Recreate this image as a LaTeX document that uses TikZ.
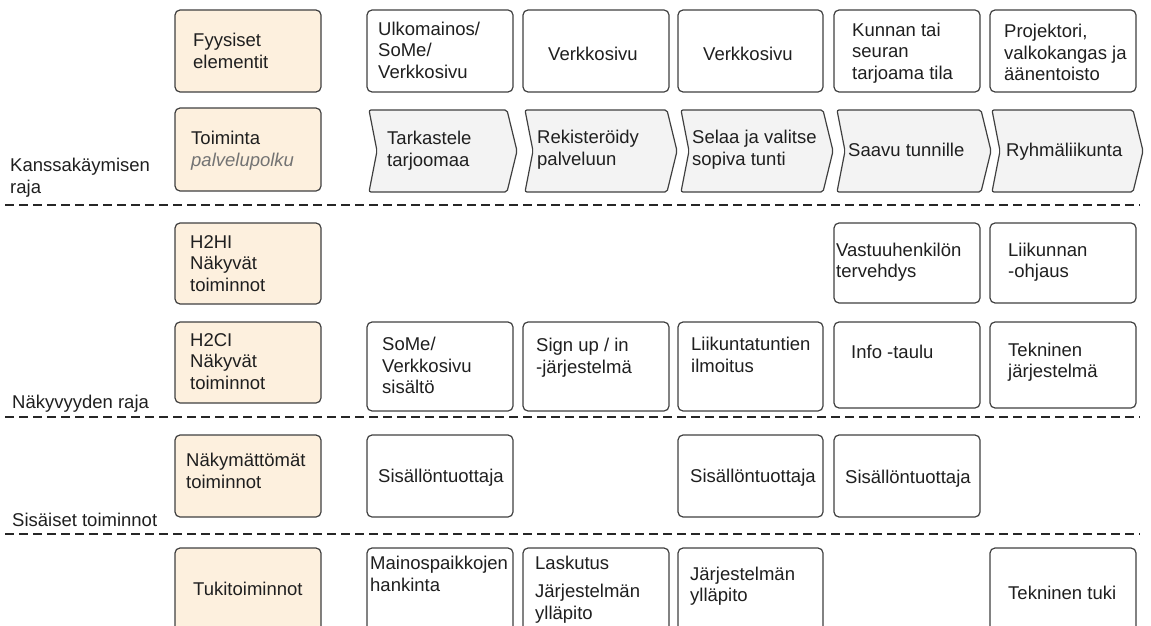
\documentclass[tikz,border=0pt]{standalone}
\usepackage{fontspec}
\setmainfont{Liberation Sans}
\definecolor{peach}{RGB}{253,240,222}
\definecolor{stepgray}{RGB}{243,243,243}
\begin{document}
\begin{tikzpicture}[x=1pt,y=-1pt,
  font=\fontsize{18.5}{21.5}\selectfont,
  every node/.style={text=black!88},
  boxbase/.style={draw=black!75,line width=1.2pt,rounded corners=5pt,inner sep=0pt,outer sep=0pt},
  catbox/.style={boxbase,fill=peach},
  cellbox/.style={boxbase,fill=white},
  chevbox/.style={draw=black!75,line width=1.2pt,rounded corners=2pt,fill=stepgray},
  txt/.style={anchor=north west,inner sep=0pt,align=left,execute at begin node={\rule{0pt}{17pt}}},
  sep/.style={line width=2.1pt,dash pattern=on 8.5pt off 5.5pt,black!85}
]
% page frame
\useasboundingbox (0,0) rectangle (1151,626);
\clip (0,0) rectangle (1151,626);

% box as a named node: style, name, x1, y1, x2, y2
\newcommand\cell[6]{%
  \node[#1,minimum width={(#5-#3)*1pt},minimum height={(#6-#4)*1pt}] (#2) at ({(#3+#5)/2},{(#4+#6)/2}) {};}
% text as a named node: name, left x, first baseline, text
\newcommand\celltext[4]{\node[txt] (#1) at (#2,{#3-17}) {#4};}
% chevron step: left x, right x, top y, bottom y
\newcommand\chev[4]{%
  \draw[chevbox] (#1,#3) -- (#2,#3) -- ({#2+10},{(#3+#4)/2}) -- (#2,#4) -- (#1,#4) -- ({#1+8},{(#3+#4)/2}) -- cycle;}

% separator lines
\coordinate (s1a) at (5,205);  \coordinate (s1b) at (1140,205);
\coordinate (s2a) at (5,417);  \coordinate (s2b) at (1140,417);
\coordinate (s3a) at (5,534);  \coordinate (s3b) at (1140,534);
\draw[sep] (s1a) -- (s1b);
\draw[sep] (s2a) -- (s2b);
\draw[sep] (s3a) -- (s3b);

% boundary labels
\celltext{lab1}{10}{175}{Kanssakäymisen\\raja}
\celltext{lab2}{12}{408}{Näkyvyyden raja}
\celltext{lab3}{12}{526}{Sisäiset toiminnot}

% category column
\cell{catbox}{k1}{175}{10}{321}{92}
\cell{catbox}{k2}{175}{108}{321}{191}
\cell{catbox}{k3}{175}{223}{321}{304}
\cell{catbox}{k4}{175}{322}{321}{403}
\cell{catbox}{k5}{175}{435}{321}{517}
\cell{catbox}{k6}{175}{548}{321}{660}
\celltext{tk1}{193}{50}{Fyysiset\\elementit}
\celltext{tk2}{191}{148}{Toiminta\\{\itshape\color{black!55}palvelupolku}}
\celltext{tk3}{190}{252}{H2HI\\Näkyvät\\toiminnot}
\celltext{tk4}{190}{350}{H2CI\\Näkyvät\\toiminnot}
\celltext{tk5}{186}{470}{Näkymättömät\\toiminnot}
\celltext{tk6}{193}{595}{Tukitoiminnot}

% row 1: physical elements
\cell{cellbox}{a1}{367}{10}{513}{92}
\cell{cellbox}{a2}{523}{10}{669}{92}
\cell{cellbox}{a3}{678}{10}{823}{92}
\cell{cellbox}{a4}{834}{10}{980}{92}
\cell{cellbox}{a5}{990}{10}{1136}{92}
\celltext{ta1}{378}{38.5}{Ulkomainos/\\SoMe/\\Verkkosivu}
\celltext{ta2}{548}{60}{Verkkosivu}
\celltext{ta3}{703}{60}{Verkkosivu}
\celltext{ta4}{852}{39.5}{Kunnan tai\\seuran\\tarjoama tila}
\celltext{ta5}{1004}{41}{Projektori,\\valkokangas ja\\äänentoisto}

% row 2: service path
\chev{369}{507}{110}{192}
\chev{525}{667}{110}{192}
\chev{681}{823}{110}{192}
\chev{837}{981}{110}{192}
\chev{992}{1133}{110}{192}
\celltext{tb1}{387}{148}{Tarkastele\\tarjoomaa}
\celltext{tb2}{537}{147}{Rekisteröidy\\palveluun}
\celltext{tb3}{692}{147}{Selaa ja valitse\\sopiva tunti}
\celltext{tb4}{848}{156.5}{Saavu tunnille}
\celltext{tb5}{1006}{156.5}{Ryhmäliikunta}

% row 3: H2HI
\cell{cellbox}{c4}{834}{223}{980}{303}
\cell{cellbox}{c5}{990}{223}{1136}{303}
\celltext{tc4}{836}{259.5}{Vastuuhenkilön\\tervehdys}
\celltext{tc5}{1008}{259.5}{Liikunnan\\-ohjaus}

% row 4: H2CI
\cell{cellbox}{d1}{367}{322}{513}{411}
\cell{cellbox}{d2}{523}{322}{669}{411}
\cell{cellbox}{d3}{678}{322}{823}{411}
\cell{cellbox}{d4}{834}{322}{980}{408}
\cell{cellbox}{d5}{990}{322}{1136}{408}
\celltext{td1}{382}{354}{SoMe/\\Verkkosivu\\sisältö}
\celltext{td2}{536}{355}{Sign up / in\\-järjestelmä}
\celltext{td3}{691}{354}{Liikuntatuntien\\ilmoitus}
\celltext{td4}{851}{358.5}{Info -taulu}
\celltext{td5}{1008}{359.5}{Tekninen\\järjestelmä}

% row 5: invisible actions
\cell{cellbox}{e1}{367}{435}{513}{517}
\cell{cellbox}{e3}{678}{435}{823}{517}
\cell{cellbox}{e4}{834}{435}{980}{517}
\celltext{te1}{378}{482.5}{Sisällöntuottaja}
\celltext{te3}{690}{482.5}{Sisällöntuottaja}
\celltext{te4}{845}{483}{Sisällöntuottaja}

% row 6: support actions
\cell{cellbox}{f1}{367}{548}{513}{660}
\cell{cellbox}{f2}{523}{548}{669}{660}
\cell{cellbox}{f3}{678}{548}{823}{660}
\cell{cellbox}{f5}{990}{548}{1136}{660}
\celltext{tf1}{370}{573}{Mainospaikkojen\\hankinta}
\celltext{tf2}{535}{573}{Laskutus\\[6.5pt]Järjestelmän\\ylläpito}
\celltext{tf3}{690}{583.5}{Järjestelmän\\ylläpito}
\celltext{tf5}{1008}{599}{Tekninen tuki}
\end{tikzpicture}
\end{document}
